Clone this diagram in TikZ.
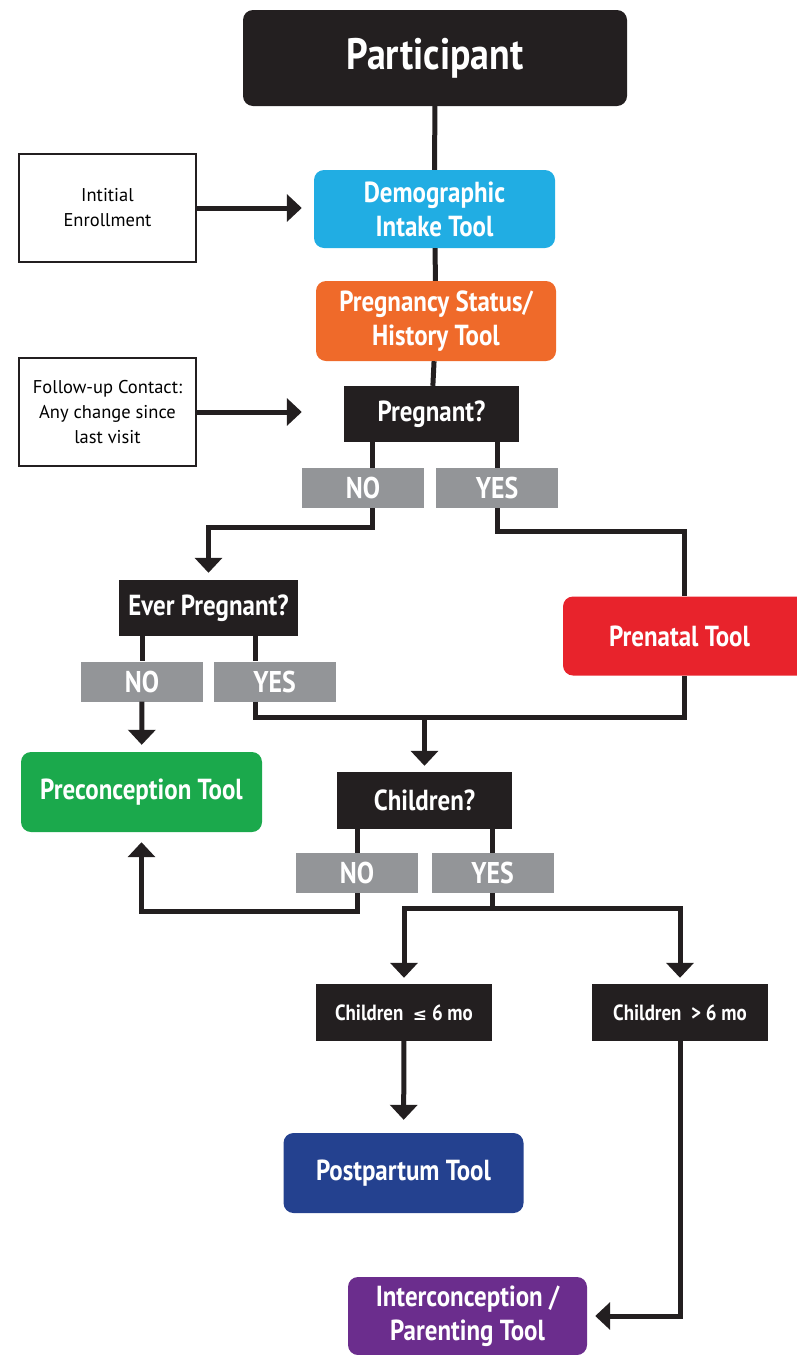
\documentclass[tikz,border=0pt]{standalone}
\usepackage{fontspec}
\setmainfont{PT Sans}
\newfontfamily\condfont[FakeStretch=0.86]{PT Sans}
\newfontfamily\symfont{DejaVu Sans}
\usepackage{tikz}
\usetikzlibrary{positioning, calc, arrows.meta}

\definecolor{ink}{HTML}{231F20}
\definecolor{demoblue}{HTML}{21ADE3}
\definecolor{historange}{HTML}{EF6A2A}
\definecolor{answergray}{HTML}{939598}
\definecolor{prenatred}{HTML}{E8232C}
\definecolor{precongreen}{HTML}{1BA94C}
\definecolor{postnavy}{HTML}{24418F}
\definecolor{interpurple}{HTML}{6B2D8D}

\begin{document}
\begin{tikzpicture}[x = 1pt, y = -1pt,
  tool/.style = {rounded corners = 10pt, text = white, align = center,
    font = \condfont\bfseries\fontsize{29}{34}\selectfont, inner sep = 0pt},
  question/.style = {fill = ink, text = white, align = center, inner sep = 0pt,
    font = \condfont\bfseries\fontsize{29}{32}\selectfont},
  answer/.style = {fill = answergray, text = white, inner sep = 0pt,
    minimum width = 122pt, minimum height = 40pt,
    font = \condfont\bfseries\fontsize{30}{32}\selectfont},
  entry/.style = {draw = ink, line width = 1.5pt, fill = white, align = center,
    minimum width = 177pt, minimum height = 108pt, inner sep = 0pt,
    font = \fontsize{18.5}{25}\selectfont},
  line/.style = {draw = ink, line width = 5pt},
  arr/.style = {line, -{Triangle[width = 27pt, length = 15pt]}}]

\useasboundingbox (0,0) rectangle (796,1355);

\node[tool, fill = ink, minimum width = 384pt, minimum height = 96pt,
  font = \condfont\bfseries\fontsize{44}{48}\selectfont] (part) at (435,58) {Participant};
\node[tool, fill = demoblue, minimum width = 241pt, minimum height = 78pt] (demo) at (434.5,209) {Demographic\\Intake Tool};
\node[tool, fill = historange, minimum width = 240pt, minimum height = 80pt] (hist) at (436,321) {Pregnancy Status/\\History Tool};
\node[question, minimum width = 175pt, minimum height = 56pt] (preg) at (431.5,414) {Pregnant?};

\node[entry] (init) at (107.5,208) {Intitial\\Enrollment};
\node[entry] (follow) at (107.5,412) {Follow-up Contact:\\Any change since\\last visit};

\node[answer] (no1) at (363,488) {NO};
\node[answer] (yes1) at (497,488) {YES};

\node[question, minimum width = 179pt, minimum height = 56pt] (ever) at (208.5,608) {Ever Pregnant?};
\node[tool, fill = prenatred, minimum width = 247pt, minimum height = 79pt] (prenat) at (686.5,636)
  {\hbox{Prenatal Tool\kern14pt}};

\node[answer] (no2) at (142,681.5) {NO};
\node[answer] (yes2) at (274.5,681.5) {YES};

\node[tool, fill = precongreen, minimum width = 241pt, minimum height = 80pt] (precon) at (141.5,792) {Preconception Tool};
\node[question, minimum width = 175pt, minimum height = 57pt] (child) at (424.5,800.5) {Children?};

\node[answer] (no3) at (357,873) {NO};
\node[answer] (yes3) at (492.5,873) {YES};

\node[question, minimum width = 176pt, minimum height = 57pt,
  font = \condfont\bfseries\fontsize{22}{24}\selectfont] (le6) at (404,1012.5)
  {Children \ {\symfont\bfseries\fontsize{17}{20}\selectfont ≤} 6 mo};
\node[question, minimum width = 176pt, minimum height = 57pt,
  font = \condfont\bfseries\fontsize{22}{24}\selectfont] (gt6) at (680,1012.5) {Children \ > 6 mo};

\node[tool, fill = postnavy, minimum width = 240pt, minimum height = 80pt] (post) at (403.5,1173) {Postpartum Tool};
\node[tool, fill = interpurple, minimum width = 239pt, minimum height = 78pt] (inter) at (467.5,1316) {Interconception /\\Parenting Tool};

% main stem
\draw[line] (part) -- (demo);
\draw[line] (demo) -- (hist);
\draw[line] (hist) -- (preg);
\draw[arr, shorten > = 12pt] (init) -- (init -| demo.west);
\draw[arr, shorten > = 42pt] (follow) -- (follow -| preg.west);

% pregnant?
\draw[line] ([xshift = 9]no1.north |- preg.south) -- ([xshift = 9]no1.north);
\draw[line] (yes1.north |- preg.south) -- (yes1.north);
\draw[arr, shorten > = 7pt] ([xshift = 9]no1.south) -- ++(0,19) -| (ever.north);
\draw[line] (yes1.south) -- ++(0,23) -| ([xshift = -2]prenat.north);

% ever pregnant?
\draw[line] (no2.north |- ever.south) -- (no2.north);
\draw[line] ([xshift = -19]yes2.north |- ever.south) -- ([xshift = -19]yes2.north);
\draw[arr, shorten > = 7pt] (no2) -- (precon);
\coordinate (join) at (child.north |- 0,717);
\draw[line] ([xshift = -19]yes2.south) |- (join) -| ([xshift = -2]prenat.south);
\draw[arr, shorten > = 6pt] (join) -- (child.north);

% children?
\draw[line] (no3.north |- child.south) -- (no3.north);
\draw[line] (yes3.north |- child.south) -- (yes3.north);
\draw[arr, shorten > = 10pt] (no3.south) -- ++(0,18) -| (precon.south);
\draw[line] (yes3.south) -- ++(0,15) coordinate (split);
\draw[arr, shorten > = 6pt] (split) -| (le6.north);
\draw[arr, shorten > = 6pt] (split) -| (gt6.north);
\draw[arr, shorten > = 13pt] (le6) -- (post);
\draw[arr, shorten > = 8pt] (gt6.south) |- (inter.east);
\end{tikzpicture}
\end{document}
